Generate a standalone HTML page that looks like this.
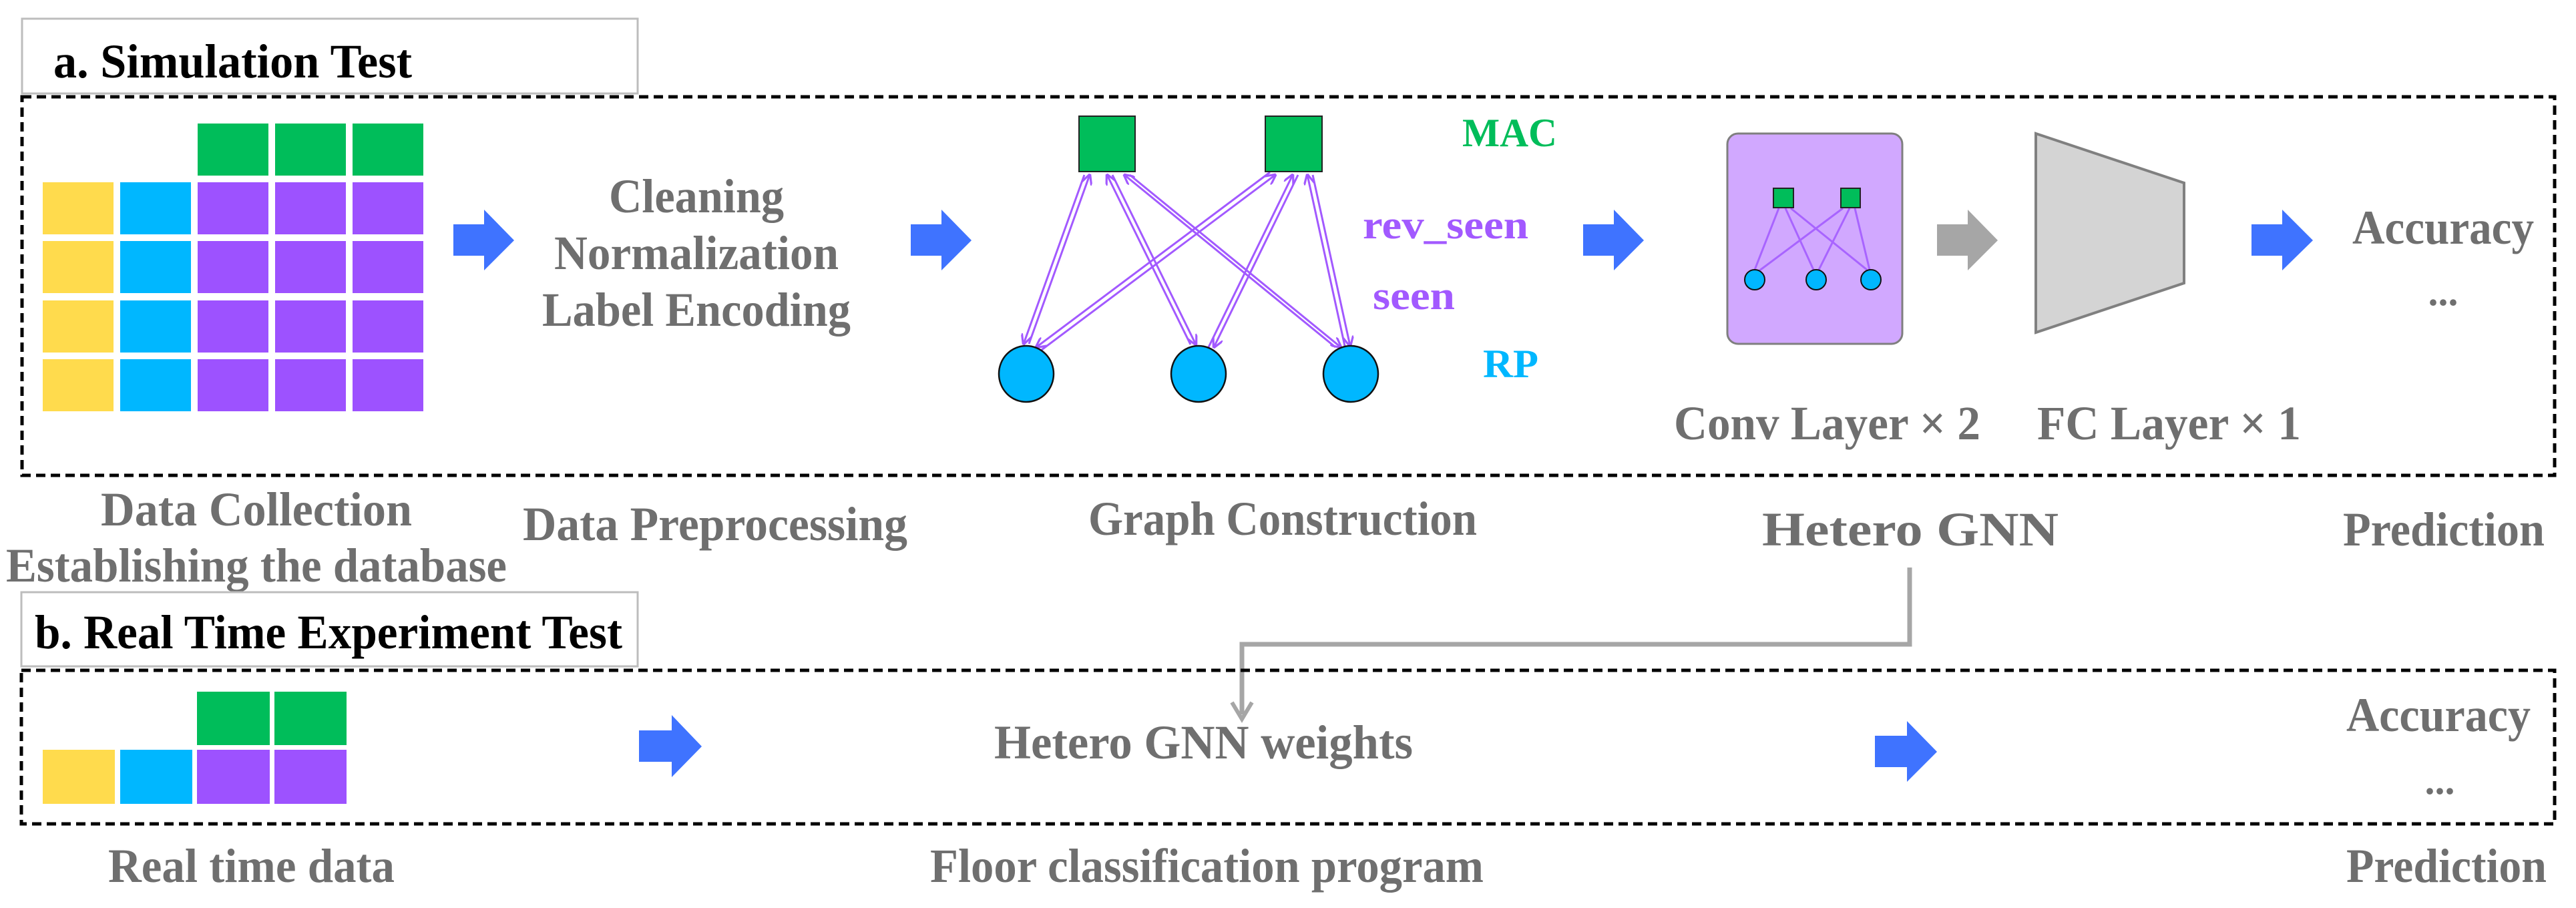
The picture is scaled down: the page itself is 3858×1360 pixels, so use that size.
<!DOCTYPE html>
<html><head><meta charset="utf-8"><style>
html,body{margin:0;padding:0;background:#fff;}
svg{display:block;font-family:"Liberation Serif","DejaVu Serif",serif;}
svg text{font-family:"Liberation Serif","DejaVu Serif",serif !important;font-weight:bold;}
.g{fill:#6f6f6f;}
</style></head><body>
<svg width="3858" height="1360" viewBox="0 0 3858 1360" xmlns="http://www.w3.org/2000/svg" font-family="Liberation Serif, serif" font-weight="bold">
<defs>
<marker id="ae" viewBox="0 0 10 10" refX="9" refY="5" markerWidth="16" markerHeight="16" orient="auto" markerUnits="userSpaceOnUse">
<path d="M0,0 L10,5 L0,10" fill="none" stroke="#a259ff" stroke-width="2"/></marker>
<marker id="as" viewBox="0 0 10 10" refX="1" refY="5" markerWidth="16" markerHeight="16" orient="auto" markerUnits="userSpaceOnUse">
<path d="M10,0 L0,5 L10,10" fill="none" stroke="#a259ff" stroke-width="2"/></marker>
</defs>

<rect x="33" y="28" width="922" height="112" fill="#fff" stroke="#bdbdbd" stroke-width="3"/>
<text x="80" y="116" font-size="72" fill="#000" textLength="537" lengthAdjust="spacingAndGlyphs">a. Simulation Test</text>
<rect x="33" y="145" width="3793" height="567" fill="none" stroke="#000" stroke-width="5" stroke-dasharray="14 8"/>

<g>
<rect x="296" y="185" width="106" height="78" fill="#00bd5a"/>
<rect x="412" y="185" width="106" height="78" fill="#00bd5a"/>
<rect x="528" y="185" width="106" height="78" fill="#00bd5a"/>
<g id="row">
<rect x="64" y="273" width="106" height="78" fill="#ffdb4d"/>
<rect x="180" y="273" width="106" height="78" fill="#00b7ff"/>
<rect x="296" y="273" width="106" height="78" fill="#9d52ff"/>
<rect x="412" y="273" width="106" height="78" fill="#9d52ff"/>
<rect x="528" y="273" width="106" height="78" fill="#9d52ff"/>
</g>
<use href="#row" y="88"/>
<use href="#row" y="177"/>
<use href="#row" y="265"/>
</g>

<polygon points="679,336 725,336 725,314 770,360 725,405 725,383 679,383" fill="#3f73ff"/>
<polygon points="1364,336 1410,336 1410,314 1455,360 1410,405 1410,383 1364,383" fill="#3f73ff"/>
<polygon points="2371,336 2417,336 2417,314 2462,360 2417,405 2417,383 2371,383" fill="#3f73ff"/>
<polygon points="2901,336 2947,336 2947,314 2992,360 2947,405 2947,383 2901,383" fill="#a6a6a6"/>
<polygon points="3372,336 3418,336 3418,314 3464,360 3418,405 3418,383 3372,383" fill="#3f73ff"/>

<text class="g" x="1043" y="318" font-size="72" text-anchor="middle" textLength="262" lengthAdjust="spacingAndGlyphs">Cleaning</text>
<text class="g" x="1043" y="403" font-size="72" text-anchor="middle" textLength="426" lengthAdjust="spacingAndGlyphs">Normalization</text>
<text class="g" x="1043" y="488" font-size="72" text-anchor="middle" textLength="462" lengthAdjust="spacingAndGlyphs">Label Encoding</text>

<g stroke="#a259ff" stroke-width="3" fill="none">
<line x1="1624" y1="262" x2="1533" y2="515" marker-end="url(#ae)"/>
<line x1="1632" y1="262" x2="1541" y2="515" marker-start="url(#as)"/>
<line x1="1658" y1="262" x2="1783" y2="516" marker-start="url(#as)"/>
<line x1="1666" y1="262" x2="1791" y2="516" marker-end="url(#ae)"/>
<line x1="1684" y1="262" x2="2000" y2="520" marker-start="url(#as)"/>
<line x1="1692" y1="262" x2="2008" y2="520" marker-end="url(#ae)"/>
<line x1="1902" y1="258" x2="1552" y2="520" marker-end="url(#ae)"/>
<line x1="1910" y1="262" x2="1560" y2="524" marker-start="url(#as)"/>
<line x1="1936" y1="262" x2="1810" y2="520" marker-start="url(#as)"/>
<line x1="1944" y1="262" x2="1818" y2="520" marker-end="url(#ae)"/>
<line x1="1958" y1="262" x2="2014" y2="518" marker-start="url(#as)"/>
<line x1="1966" y1="262" x2="2022" y2="518" marker-end="url(#ae)"/>
</g>
<rect x="1616" y="174" width="84" height="83" fill="#00bd5a" stroke="#222" stroke-width="2"/>
<rect x="1895" y="174" width="85" height="83" fill="#00bd5a" stroke="#222" stroke-width="2"/>
<ellipse cx="1537" cy="560" rx="41" ry="42" fill="#00b7ff" stroke="#111" stroke-width="2.5"/>
<ellipse cx="1795" cy="560" rx="41" ry="42" fill="#00b7ff" stroke="#111" stroke-width="2.5"/>
<ellipse cx="2023" cy="560" rx="41" ry="42" fill="#00b7ff" stroke="#111" stroke-width="2.5"/>
<text x="2190" y="219" font-size="60" fill="#00bd5a" textLength="142" lengthAdjust="spacingAndGlyphs">MAC</text>
<text x="2041" y="357" font-size="60" fill="#a259ff" textLength="248" lengthAdjust="spacingAndGlyphs">rev_seen</text>
<text x="2056" y="463" font-size="60" fill="#a259ff" textLength="123" lengthAdjust="spacingAndGlyphs">seen</text>
<text x="2221" y="565" font-size="60" fill="#00b7ff" textLength="83" lengthAdjust="spacingAndGlyphs">RP</text>

<rect x="2587" y="200" width="262" height="315" rx="16" fill="#d1a8ff" stroke="#7f7f7f" stroke-width="3"/>
<g stroke="#a259ff" stroke-width="3" fill="none" opacity="0.85">
<line x1="2664" y1="312" x2="2628" y2="404"/>
<line x1="2674" y1="312" x2="2716" y2="404"/>
<line x1="2682" y1="312" x2="2796" y2="404"/>
<line x1="2760" y1="312" x2="2634" y2="406"/>
<line x1="2770" y1="312" x2="2724" y2="404"/>
<line x1="2778" y1="312" x2="2800" y2="404"/>
</g>
<rect x="2656" y="282" width="30" height="29" fill="#00bd5a" stroke="#222" stroke-width="2"/>
<rect x="2757" y="282" width="29" height="29" fill="#00bd5a" stroke="#222" stroke-width="2"/>
<circle cx="2628" cy="419" r="15" fill="#00b7ff" stroke="#111" stroke-width="2"/>
<circle cx="2720" cy="419" r="15" fill="#00b7ff" stroke="#111" stroke-width="2"/>
<circle cx="2802" cy="419" r="15" fill="#00b7ff" stroke="#111" stroke-width="2"/>

<polygon points="3049,200 3271,274 3271,424 3049,498" fill="#d4d4d4" stroke="#808080" stroke-width="4"/>

<text class="g" x="3523" y="365" font-size="72" textLength="272" lengthAdjust="spacingAndGlyphs">Accuracy</text>
<text class="g" x="3659" y="457" font-size="60" text-anchor="middle">...</text>

<text class="g" x="2507" y="658" font-size="72" textLength="459" lengthAdjust="spacingAndGlyphs">Conv Layer × 2</text>
<text class="g" x="3051" y="658" font-size="72" textLength="395" lengthAdjust="spacingAndGlyphs">FC Layer × 1</text>

<text class="g" x="384" y="787" font-size="72" text-anchor="middle" textLength="466" lengthAdjust="spacingAndGlyphs">Data Collection</text>
<text class="g" x="384" y="871" font-size="72" text-anchor="middle" textLength="750" lengthAdjust="spacingAndGlyphs">Establishing the database</text>
<text class="g" x="1071" y="809" font-size="72" text-anchor="middle" textLength="576" lengthAdjust="spacingAndGlyphs">Data Preprocessing</text>
<text class="g" x="1921" y="801" font-size="72" text-anchor="middle" textLength="582" lengthAdjust="spacingAndGlyphs">Graph Construction</text>
<text class="g" x="2861" y="817" font-size="72" text-anchor="middle" textLength="444" lengthAdjust="spacingAndGlyphs">Hetero GNN</text>
<text class="g" x="3660" y="817" font-size="72" text-anchor="middle" textLength="302" lengthAdjust="spacingAndGlyphs">Prediction</text>

<polyline points="2860,850 2860,965 1860,965 1860,1070" fill="none" stroke="#a6a6a6" stroke-width="7"/>
<path d="M1845,1052 L1860,1077 L1875,1052" fill="none" stroke="#a6a6a6" stroke-width="6"/>

<rect x="32" y="887" width="923" height="111" fill="#fff" stroke="#bdbdbd" stroke-width="3"/>
<text x="52" y="971" font-size="72" fill="#000" textLength="880" lengthAdjust="spacingAndGlyphs">b. Real Time Experiment Test</text>
<rect x="32" y="1004" width="3794" height="230" fill="none" stroke="#000" stroke-width="5" stroke-dasharray="14 8"/>

<rect x="295" y="1036" width="109" height="80" fill="#00bd5a"/>
<rect x="411" y="1036" width="108" height="80" fill="#00bd5a"/>
<rect x="64" y="1123" width="108" height="81" fill="#ffdb4d"/>
<rect x="180" y="1123" width="108" height="81" fill="#00b7ff"/>
<rect x="295" y="1123" width="109" height="81" fill="#9d52ff"/>
<rect x="411" y="1123" width="108" height="81" fill="#9d52ff"/>

<polygon points="957,1094 1006,1094 1006,1071 1051,1118 1006,1164 1006,1141 957,1141" fill="#3f73ff"/>
<polygon points="2808,1102 2856,1102 2856,1080 2901,1126 2856,1171 2856,1149 2808,1149" fill="#3f73ff"/>

<text class="g" x="1489" y="1136" font-size="72" textLength="627" lengthAdjust="spacingAndGlyphs">Hetero GNN weights</text>
<text class="g" x="3514" y="1095" font-size="72" textLength="276" lengthAdjust="spacingAndGlyphs">Accuracy</text>
<text class="g" x="3654" y="1189" font-size="60" text-anchor="middle">...</text>

<text class="g" x="162" y="1321" font-size="72" textLength="429" lengthAdjust="spacingAndGlyphs">Real time data</text>
<text class="g" x="1393" y="1321" font-size="72" textLength="829" lengthAdjust="spacingAndGlyphs">Floor classification program</text>
<text class="g" x="3514" y="1321" font-size="72" textLength="300" lengthAdjust="spacingAndGlyphs">Prediction</text>
</svg>
</body></html>
